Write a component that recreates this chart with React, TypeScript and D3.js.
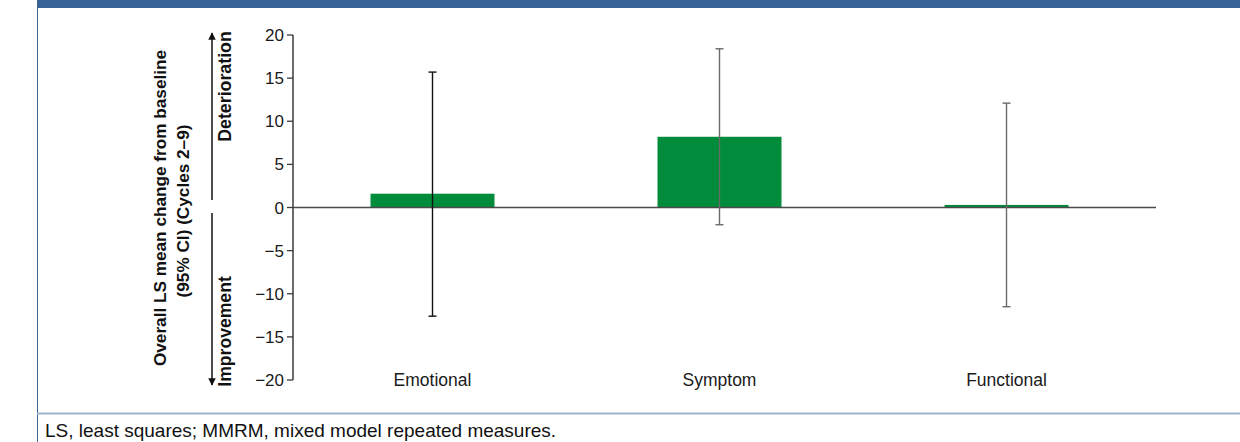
import React from 'react';
import * as d3 from 'd3';

const categories = ['Emotional', 'Symptom', 'Functional'];
const means = [1.6, 8.2, 0.3];
const ciLower = [-12.6, -2.0, -11.5];
const ciUpper = [15.7, 18.4, 12.1];
const yTicks = [20, 15, 10, 5, 0, -5, -10, -15, -20];

const W = 1240;
const H = 442;
const font = "'Liberation Sans', Arial, Helvetica, sans-serif";

export default function App() {
  const y = d3.scaleLinear().domain([-20, 20]).range([380, 35]);
  const x = d3.scaleBand().domain(categories).range([289, 1150]).paddingInner(0.568).paddingOuter(0.284);
  const axisX = 293;
  const zeroY = y(0);
  const bw = x.bandwidth();
  const fmt = (v: number) => (v < 0 ? '\u2212' + Math.abs(v) : String(v));

  return (
    <svg width={W} height={H} style={{ position: 'absolute', left: 0, top: 0, background: '#fff' }} fontFamily={font}>
      {/* frame */}
      <rect x={37} y={0} width={W - 37} height={8} fill="#386398" />
      <line x1={37.5} x2={37.5} y1={0} y2={H} stroke="#3d6798" strokeWidth={1} />
      <line x1={37} x2={W} y1={413.5} y2={413.5} stroke="#9fb3d0" strokeWidth={2} />
      <text x={45} y={437} fontSize={19} fill="#111">LS, least squares; MMRM, mixed model repeated measures.</text>

      {/* bars */}
      {categories.map((c, i) => {
        const top = Math.min(y(means[i]), zeroY);
        return (
          <rect key={c} x={x(c)!} y={top} width={bw} height={Math.abs(y(means[i]) - zeroY)} fill="#008c3a" />
        );
      })}

      {/* zero line and y axis */}
      <line x1={axisX} x2={1156} y1={zeroY} y2={zeroY} stroke="#4a4a4a" strokeWidth={1.5} />
      <line x1={axisX} x2={axisX} y1={y(20)} y2={y(-20)} stroke="#3a3a3a" strokeWidth={1.5} />
      {yTicks.map(t => (
        <g key={t}>
          <line x1={axisX - 6} x2={axisX} y1={y(t)} y2={y(t)} stroke="#3a3a3a" strokeWidth={1.3} />
          <text x={axisX - 9} y={y(t)} dy="0.36em" textAnchor="end" fontSize={17} fill="#1a1a1a">{fmt(t)}</text>
        </g>
      ))}

      {/* error bars */}
      {categories.map((c, i) => {
        const cx = x(c)! + bw / 2;
        const stroke = i === 0 ? '#111' : '#6a6a6a';
        return (
          <g key={c + '-ci'} stroke={stroke} strokeWidth={1.4}>
            <line x1={cx} x2={cx} y1={y(ciUpper[i])} y2={y(ciLower[i])} />
            <line x1={cx - 4} x2={cx + 4} y1={y(ciUpper[i])} y2={y(ciUpper[i])} />
            <line x1={cx - 4} x2={cx + 4} y1={y(ciLower[i])} y2={y(ciLower[i])} />
          </g>
        );
      })}

      {/* category labels */}
      {categories.map(c => (
        <text key={c + '-lbl'} x={x(c)! + bw / 2} y={386} textAnchor="middle" fontSize={17.5} fill="#1a1a1a">{c}</text>
      ))}

      {/* y title */}
      <text transform="translate(160,208) rotate(-90)" textAnchor="middle" dy="0.35em" fontSize={17.2} fontWeight="bold" fill="#111">
        Overall LS mean change from baseline
      </text>
      <text transform="translate(183,211) rotate(-90)" textAnchor="middle" dy="0.35em" fontSize={17.2} fontWeight="bold" fill="#111">
        (95% CI) (Cycles 2–9)
      </text>

      {/* direction arrows */}
      <defs>
        <marker id="ah" viewBox="0 0 10 10" refX="9" refY="5" markerWidth="5" markerHeight="5" orient="auto">
          <path d="M0,0 L10,5 L0,10 z" fill="#111" />
        </marker>
      </defs>
      <line x1={212} x2={212} y1={200} y2={33} stroke="#111" strokeWidth={1.5} markerEnd="url(#ah)" />
      <line x1={212} x2={212} y1={213} y2={385} stroke="#111" strokeWidth={1.5} markerEnd="url(#ah)" />
      <text transform="translate(225,86.5) rotate(-90)" textAnchor="middle" dy="0.35em" fontSize={17.8} fontWeight="bold" fill="#111">Deterioration</text>
      <text transform="translate(225,331.5) rotate(-90)" textAnchor="middle" dy="0.35em" fontSize={17.6} fontWeight="bold" fill="#111">Improvement</text>
    </svg>
  );
}
